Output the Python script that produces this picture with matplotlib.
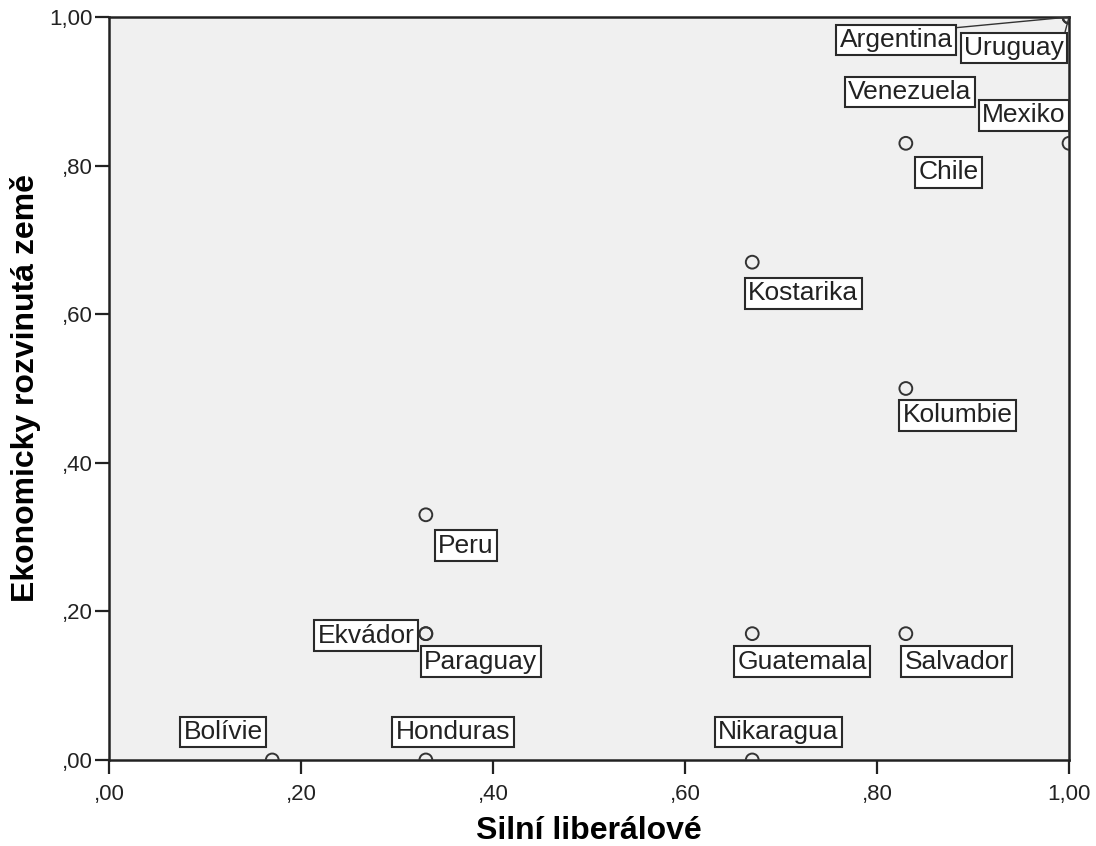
import matplotlib.pyplot as plt
from matplotlib.ticker import FixedLocator, FuncFormatter

countries = ["Argentina", "Uruguay", "Venezuela", "Mexiko", "Chile", "Kostarika",
             "Kolumbie", "Peru", "Ekvádor", "Paraguay", "Guatemala", "Salvador",
             "Bolívie", "Honduras", "Nikaragua"]
liberals = [1.00, 1.00, 1.00, 1.00, 0.83, 0.67,
            0.83, 0.33, 0.33, 0.33, 0.67, 0.83,
            0.17, 0.33, 0.67]
developed = [1.00, 1.00, 1.00, 0.83, 0.83, 0.67,
             0.50, 0.33, 0.17, 0.17, 0.17, 0.17,
             0.00, 0.00, 0.00]
ticks = [0.0, 0.2, 0.4, 0.6, 0.8, 1.0]

# label placement relative to each point (pixels), as SPSS put them
label_offsets = {
    "Argentina": (-173, -23), "Uruguay": (-55, -31), "Venezuela": (-159, -75),
    "Mexiko": (-45, 28), "Chile": (43, -29), "Kostarika": (51, -31),
    "Kolumbie": (52, -27), "Peru": (40, -31), "Ekvádor": (-60, -2),
    "Paraguay": (55, -28), "Guatemala": (50, -28), "Salvador": (51, -28),
    "Bolívie": (-49, 28), "Honduras": (27, 28), "Nikaragua": (26, 28),
}
leader = {"Argentina", "Uruguay"}

plt.rcParams["font.family"] = ["Liberation Sans", "DejaVu Sans"]

fig = plt.figure(figsize=(10.96, 8.46), dpi=100)
ax = fig.add_axes([0.0995, 0.1017, 0.8759, 0.8782])
ax.set_facecolor("#f0f0f0")

ax.scatter(liberals, developed, s=85, facecolors="none", edgecolors="#333333",
           linewidths=1.4, zorder=3)

for name, x, y in zip(countries, liberals, developed):
    dx, dy = label_offsets[name]
    arrow = None
    if name in leader:
        arrow = dict(arrowstyle="-", color="#333333", lw=1.0, relpos=(1, 1),
                     shrinkA=0, shrinkB=0)
    ax.annotate(name, (x, y), xytext=(dx, dy), textcoords="offset pixels",
                ha="center", va="center", fontsize=19, color="#222222",
                bbox=dict(boxstyle="square,pad=0.13", fc="white", ec="#2a2a2a", lw=1.5),
                arrowprops=arrow, zorder=4, annotation_clip=False)

ax.set_xlim(0, 1)
ax.set_ylim(0, 1)


def fmt(v, pos):
    s = f"{v:.2f}".replace(".", ",")
    return s[1:] if s.startswith("0") else s


for axis in (ax.xaxis, ax.yaxis):
    axis.set_major_locator(FixedLocator(ticks))
    axis.set_major_formatter(FuncFormatter(fmt))

ax.tick_params(direction="out", length=10, width=1.6, labelsize=16,
               labelcolor="#222222", color="#222222")
ax.tick_params(axis="y", pad=1.5)
ax.tick_params(axis="x", pad=7)
for sp in ax.spines.values():
    sp.set_linewidth(1.8)
    sp.set_color("#222222")

ax.set_xlabel("Silní liberálové", fontsize=23, fontweight="bold", labelpad=8)
ax.set_ylabel("Ekonomicky rozvinutá země", fontsize=23, fontweight="bold", labelpad=6)

fig.savefig("out.png", dpi=100)
